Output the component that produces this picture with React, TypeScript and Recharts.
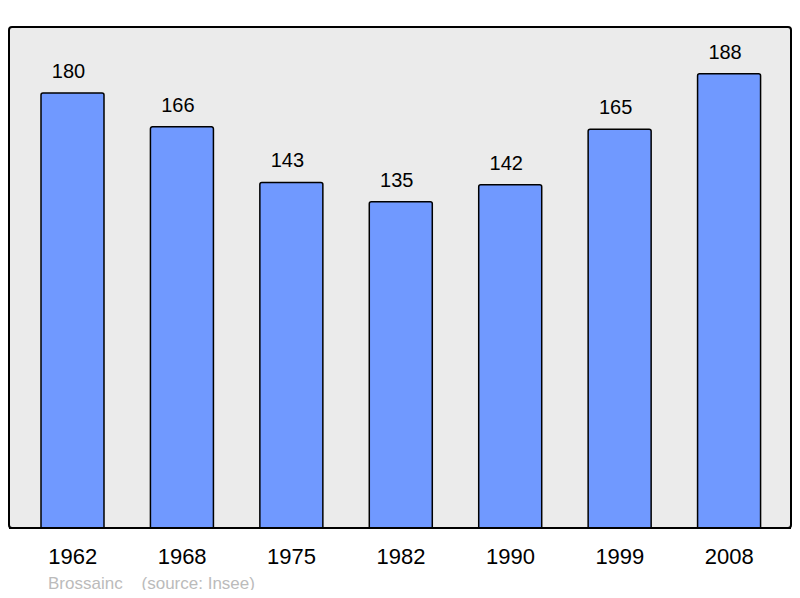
import { Bar, BarChart, LabelList, XAxis, YAxis } from 'recharts';

const years = ['1962', '1968', '1975', '1982', '1990', '1999', '2008'];
const population = [180, 166, 143, 135, 142, 165, 188];

const data = years.map((year, i) => ({ year, value: population[i] }));

const font = '"Liberation Sans", Arial, sans-serif';

function YearTick({ x, y, payload }: any) {
  return (
    <text x={x} y={y + 28} textAnchor="middle" fontSize={22} fill="#000" fontFamily={font}>
      {payload.value}
    </text>
  );
}

function ValueLabel({ x, y, width, value }: any) {
  return (
    <text x={x + width / 2 - 4} y={y - 15} textAnchor="middle" fontSize={20} fill="#000" fontFamily={font}>
      {value}
    </text>
  );
}

export default function App() {
  return (
    <div style={{ position: 'relative', width: 800, height: 598, margin: -8, fontFamily: font }}>
      <div
        style={{
          position: 'absolute',
          left: 8,
          top: 26,
          width: 780,
          height: 499,
          border: '2px solid #000',
          borderRadius: 4,
          background: '#ebebeb',
        }}
      />
      <div style={{ position: 'absolute', left: 0, top: 0 }}>
        <BarChart
          width={800}
          height={598}
          data={data}
          margin={{ top: 27, right: 9, bottom: 40, left: 9 }}
          barSize={63}
        >
          <YAxis hide domain={[0, 207.3]} />
          <XAxis
            dataKey="year"
            height={30}
            padding={{ left: 9, right: 7 }}
            tickLine={false}
            axisLine={{ stroke: '#000', strokeWidth: 2 }}
            tick={<YearTick />}
            interval={0}
          />
          <Bar
            dataKey="value"
            fill="#7099ff"
            stroke="#000"
            strokeWidth={1.5}
            radius={[2, 2, 0, 0]}
            isAnimationActive={false}
          >
            <LabelList dataKey="value" content={<ValueLabel />} />
          </Bar>
        </BarChart>
      </div>
      <div style={{ position: 'absolute', left: 48, top: 574, fontSize: 17, color: '#bbb', whiteSpace: 'pre' }}>
        {'Brossainc    (source: Insee)'}
      </div>
    </div>
  );
}
